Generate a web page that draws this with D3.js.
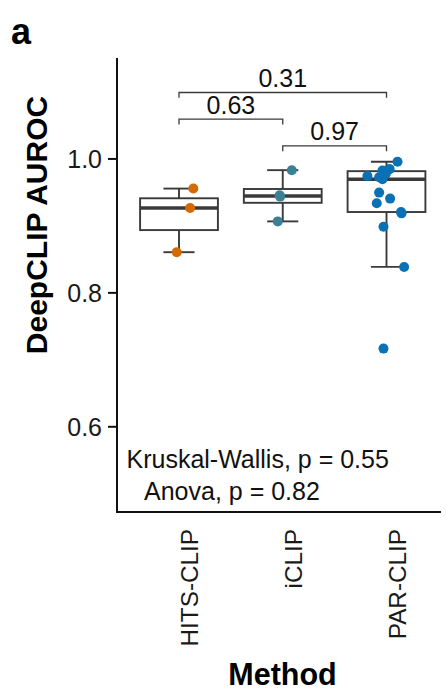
<!DOCTYPE html>
<html><head><meta charset="utf-8">
<script src="https://cdn.jsdelivr.net/npm/d3@7"></script>
<style>html,body{margin:0;padding:0;background:#fff;} svg{display:block;}</style>
</head><body>
<svg id="chart" width="446" height="698"></svg>
<script>
const categories = ["HITS-CLIP", "iCLIP", "PAR-CLIP"];
const colors = ["#D46A06", "#3C8096", "#0A72B4"];
const hitsValues = [0.955, 0.926, 0.860];
const hitsJitter = [0.138, 0.107, -0.022];
const iclipValues = [0.9825, 0.945, 0.943, 0.906];
const iclipJitter = [0.087, -0.03, -0.025, -0.048];
const parValues = [0.995, 0.984, 0.984, 0.982, 0.981, 0.977, 0.9736, 0.972, 0.969, 0.949, 0.940, 0.933, 0.920, 0.918, 0.898, 0.838, 0.716];
const parJitter = [0.106, 0.025, 0.03, -0.039, 0.0, -0.007, -0.184, -0.071, -0.039, -0.071, 0.035, -0.094, 0.14, 0.145, -0.029, 0.17, -0.029];
const yTicks = [0.6, 0.8, 1.0];
const comparisons = [
  {from: "HITS-CLIP", to: "PAR-CLIP", y: 1.0985, label: "0.31"},
  {from: "HITS-CLIP", to: "iCLIP", y: 1.0587, label: "0.63"},
  {from: "iCLIP", to: "PAR-CLIP", y: 1.0188, label: "0.97"}
];
const testLabels = ["Kruskal-Wallis, p = 0.55", "Anova, p = 0.82"];
const yTitle = "DeepCLIP AUROC";
const xTitle = "Method";
const panelLabel = "a";

const groups = [
  {name: categories[0], values: hitsValues, jitter: hitsJitter, color: colors[0]},
  {name: categories[1], values: iclipValues, jitter: iclipJitter, color: colors[1]},
  {name: categories[2], values: parValues, jitter: parJitter, color: colors[2]}
];

const font = "'Liberation Sans', Arial, Helvetica, sans-serif";
const svg = d3.select("#chart");
const axisX = 117, axisBottom = 512, axisTop = 58, axisRight = 441;

const y = d3.scaleLinear().domain([0.472, 1.15]).range([axisBottom, axisTop]);
const x = d3.scalePoint().domain(categories).range([179, 386.5]).padding(0);
const unit = x.step();
const boxW = 0.75 * unit, capW = 0.3 * unit;

// axes
const yAxis = d3.axisLeft(y).tickValues(yTicks).tickFormat(d3.format(".1f")).tickSize(9).tickPadding(6);
const gy = svg.append("g").attr("transform", `translate(${axisX},0)`).call(yAxis);
gy.select(".domain").remove();
gy.selectAll(".tick line").attr("stroke", "#111").attr("stroke-width", 2);
gy.selectAll(".tick text").attr("font-family", font).attr("font-size", 25).attr("fill", "#1a1a1a").attr("dy", "0.36em");

svg.append("line").attr("x1", axisX).attr("x2", axisX).attr("y1", axisTop).attr("y2", axisBottom + 1)
  .attr("stroke", "#111").attr("stroke-width", 2);
svg.append("line").attr("x1", axisX - 1).attr("x2", axisRight).attr("y1", axisBottom).attr("y2", axisBottom)
  .attr("stroke", "#111").attr("stroke-width", 2);

// x tick labels
svg.selectAll(".xlab").data(categories).enter().append("text")
  .attr("transform", d => `translate(${x(d) + 19},${axisBottom + 17}) rotate(-90)`)
  .attr("text-anchor", "end").attr("font-family", font).attr("font-size", 24.3).attr("fill", "#1a1a1a")
  .text(d => d);

// boxplots
const stroke = "#3a3a3a";
groups.forEach(g => {
  const s = g.values.slice().sort(d3.ascending);
  const q1 = d3.quantile(s, 0.25), med = d3.quantile(s, 0.5), q3 = d3.quantile(s, 0.75);
  const iqr = q3 - q1;
  const lo = d3.min(s.filter(v => v >= q1 - 1.5 * iqr));
  const hi = d3.max(s.filter(v => v <= q3 + 1.5 * iqr));
  const cx = x(g.name);
  const gg = svg.append("g");
  gg.append("line").attr("x1", cx).attr("x2", cx).attr("y1", y(hi)).attr("y2", y(lo)).attr("stroke", stroke).attr("stroke-width", 1.9);
  [hi, lo].forEach(v => gg.append("line").attr("x1", cx - capW / 2).attr("x2", cx + capW / 2).attr("y1", y(v)).attr("y2", y(v)).attr("stroke", stroke).attr("stroke-width", 1.9));
  gg.append("rect").attr("x", cx - boxW / 2).attr("width", boxW).attr("y", y(q3)).attr("height", y(q1) - y(q3))
    .attr("fill", "#fff").attr("stroke", stroke).attr("stroke-width", 1.9);
  gg.append("line").attr("x1", cx - boxW / 2).attr("x2", cx + boxW / 2).attr("y1", y(med)).attr("y2", y(med)).attr("stroke", stroke).attr("stroke-width", 3.6);
});

// points
groups.forEach(g => {
  svg.append("g").selectAll("circle").data(g.values.map((v, i) => ({v, j: g.jitter[i]}))).enter().append("circle")
    .attr("cx", d => x(g.name) + d.j * unit).attr("cy", d => y(d.v)).attr("r", 5).attr("fill", g.color);
});

// comparison brackets
const tickDown = 0.008;
comparisons.forEach(c => {
  const x1 = x(c.from), x2 = x(c.to);
  svg.append("path")
    .attr("d", `M${x1},${y(c.y - tickDown)}V${y(c.y)}H${x2}V${y(c.y - tickDown)}`)
    .attr("fill", "none").attr("stroke", stroke).attr("stroke-width", 1.3);
  svg.append("text").attr("x", (x1 + x2) / 2).attr("y", y(c.y) - 5.5).attr("text-anchor", "middle")
    .attr("font-family", font).attr("font-size", 25).attr("fill", "#111").text(c.label);
});

// test annotations
svg.append("text").attr("x", 126.5).attr("y", 468).attr("font-family", font).attr("font-size", 25).attr("fill", "#111").text(testLabels[0]);
svg.append("text").attr("x", 144).attr("y", 500).attr("font-family", font).attr("font-size", 25).attr("fill", "#111").text(testLabels[1]);

// titles
svg.append("text").attr("transform", `translate(46.5,225) rotate(-90)`).attr("text-anchor", "middle")
  .attr("font-family", font).attr("font-size", 30).attr("font-weight", "bold").attr("fill", "#000").text(yTitle);
svg.append("text").attr("x", 282.5).attr("y", 685).attr("text-anchor", "middle")
  .attr("font-family", font).attr("font-size", 30.5).attr("font-weight", "bold").attr("fill", "#000").text(xTitle);
svg.append("text").attr("x", 11).attr("y", 43.5)
  .attr("font-family", font).attr("font-size", 36).attr("font-weight", "bold").attr("fill", "#000").text(panelLabel);
</script>
</body></html>
